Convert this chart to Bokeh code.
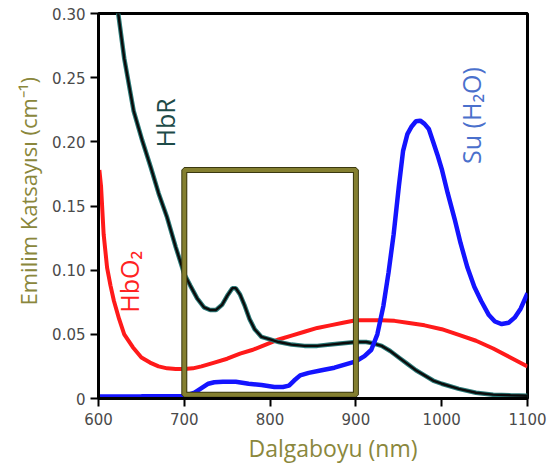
import math
from bokeh.plotting import figure
from bokeh.models import Range1d, FixedTicker, CustomJSTickFormatter, Title
from bokeh.core.properties import value
from bokeh.embed import file_html
from bokeh.resources import INLINE

# ---- data ----
x_ticks = [600, 700, 800, 900, 1000, 1100]
y_ticks = [0, 0.05, 0.10, 0.15, 0.20, 0.25, 0.30]

hbr_x = [617, 623, 630, 641, 651, 661, 670, 680, 690, 700, 707, 715, 723, 730, 737,
         744, 750, 756, 760, 765, 770, 776, 782, 790, 800, 810, 825, 840, 855, 870,
         885, 900, 912, 920, 930, 940, 950, 960, 970, 980, 990, 1000, 1020, 1040,
         1060, 1080, 1100]
hbr_y = [0.32, 0.30, 0.265, 0.224, 0.201, 0.180, 0.160, 0.141, 0.118, 0.097, 0.088,
         0.078, 0.071, 0.069, 0.069, 0.073, 0.080, 0.086, 0.086, 0.081, 0.073, 0.062,
         0.054, 0.048, 0.046, 0.044, 0.042, 0.041, 0.041, 0.042, 0.043, 0.044, 0.044,
         0.043, 0.041, 0.037, 0.032, 0.027, 0.022, 0.018, 0.014, 0.0115, 0.0075,
         0.0045, 0.003, 0.0025, 0.0022]

hbo2_x = [601, 603, 606, 610, 614, 618, 624, 630, 640, 650, 660, 670, 680, 690, 700,
          710, 720, 735, 750, 765, 780, 795, 810, 825, 840, 855, 870, 885, 900, 915,
          930, 945, 960, 980, 1000, 1020, 1040, 1060, 1080, 1100]
hbo2_y = [0.178, 0.165, 0.128, 0.102, 0.088, 0.076, 0.062, 0.050, 0.040, 0.032, 0.028,
          0.025, 0.0235, 0.023, 0.023, 0.0235, 0.025, 0.028, 0.031, 0.035, 0.038, 0.042,
          0.046, 0.049, 0.052, 0.055, 0.057, 0.059, 0.061, 0.061, 0.061, 0.0605, 0.059,
          0.057, 0.054, 0.0495, 0.045, 0.039, 0.032, 0.025]

water_x = [600, 650, 700, 705, 712, 720, 728, 735, 745, 760, 775, 790, 805, 815, 822,
           828, 835, 845, 860, 875, 890, 900, 910, 918, 925, 932, 938, 944, 950, 955,
           960, 965, 970, 975, 980, 985, 990, 995, 1000, 1007, 1015, 1022, 1030, 1038,
           1046, 1055, 1062, 1070, 1078, 1085, 1092, 1100]
water_y = [0.0015, 0.0017, 0.002, 0.003, 0.0045, 0.008, 0.0115, 0.0127, 0.013, 0.013,
           0.0115, 0.0105, 0.009, 0.009, 0.010, 0.014, 0.018, 0.020, 0.022, 0.024, 0.027,
           0.029, 0.033, 0.038, 0.050, 0.072, 0.098, 0.128, 0.165, 0.193, 0.206, 0.212,
           0.216, 0.2165, 0.214, 0.210, 0.200, 0.190, 0.179, 0.160, 0.140, 0.121, 0.102,
           0.087, 0.076, 0.065, 0.060, 0.058, 0.059, 0.063, 0.070, 0.082]

box_x = [700, 900]
box_y = [0.003, 0.178]

labels = ["HbR", "HbO\u2082", "Su (H\u2082O)"]
label_x = [678, 635, 1034]
label_y = [0.2147, 0.091, 0.2205]
label_colors = ["#1d4b48", "#ff2222", "#4a70cc"]

x_title = "Dalgaboyu (nm)"
y_title = "Emilim Katsayısı (cm\u207b\u00b9)"

OLIVE = "#8a873c"

p = figure(width=548, height=466, x_range=Range1d(600, 1100), y_range=Range1d(0, 0.30),
           output_backend="svg", toolbar_location=None,
           min_border_left=98, min_border_right=21, min_border_top=13, min_border_bottom=68)
p.background_fill_color = "white"
p.border_fill_color = "white"
p.outline_line_color = "black"
p.outline_line_width = 3
p.xgrid.visible = False
p.ygrid.visible = False

p.xaxis.ticker = FixedTicker(ticks=x_ticks)
p.yaxis.ticker = FixedTicker(ticks=y_ticks)
p.yaxis.formatter = CustomJSTickFormatter(code="return tick == 0 ? '0' : tick.toFixed(2);")
for ax in (p.xaxis, p.yaxis):
    ax.axis_line_width = 3
    ax.axis_line_color = "black"
    ax.major_tick_line_width = 2
    ax.major_tick_line_color = "black"
    ax.major_tick_in = 0
    ax.major_tick_out = 8
    ax.minor_tick_line_color = None
    ax.major_label_text_font = "DejaVu Sans"
    ax.major_label_text_font_size = "15px"
    ax.major_label_text_color = "#4a4a4a"
p.xaxis.major_label_standoff = 6
p.yaxis.major_label_standoff = 5

# axis titles (off-centre along the axis, as in the reference)
p.add_layout(Title(text=x_title, align="left", offset=150, standoff=4,
                   text_font="Open Sans", text_font_size="23px", text_font_style="normal",
                   text_color=OLIVE), "below")
p.add_layout(Title(text=y_title, align="left", offset=93, standoff=14,
                   text_font="Open Sans", text_font_size="22px", text_font_style="normal",
                   text_color=OLIVE), "left")

# curves
p.line(hbo2_x, hbo2_y, line_color="#ff1a1a", line_width=4)
p.line(hbr_x, hbr_y, line_color="#2b7a78", line_width=4.5)
p.line(hbr_x, hbr_y, line_color="#0b0b0b", line_width=2.4)
p.line(water_x, water_y, line_color="#1414ff", line_width=4.5)

# highlighted window
p.quad(left=[box_x[0]], right=[box_x[1]], bottom=[box_y[0]], top=[box_y[1]],
       fill_alpha=0, line_color="#3a3810", line_width=6)
p.quad(left=[box_x[0]], right=[box_x[1]], bottom=[box_y[0]], top=[box_y[1]],
       fill_alpha=0, line_color="#847f30", line_width=4)

# curve labels
for t, lx, ly, c in zip(labels, label_x, label_y, label_colors):
    p.text(x=[lx], y=[ly], text=[t], angle=math.pi / 2, text_align="center",
           text_baseline="middle", text_font=value("Open Sans"), text_font_size="25px",
           text_color=c)

open("out.html", "w").write(file_html(p, INLINE))
